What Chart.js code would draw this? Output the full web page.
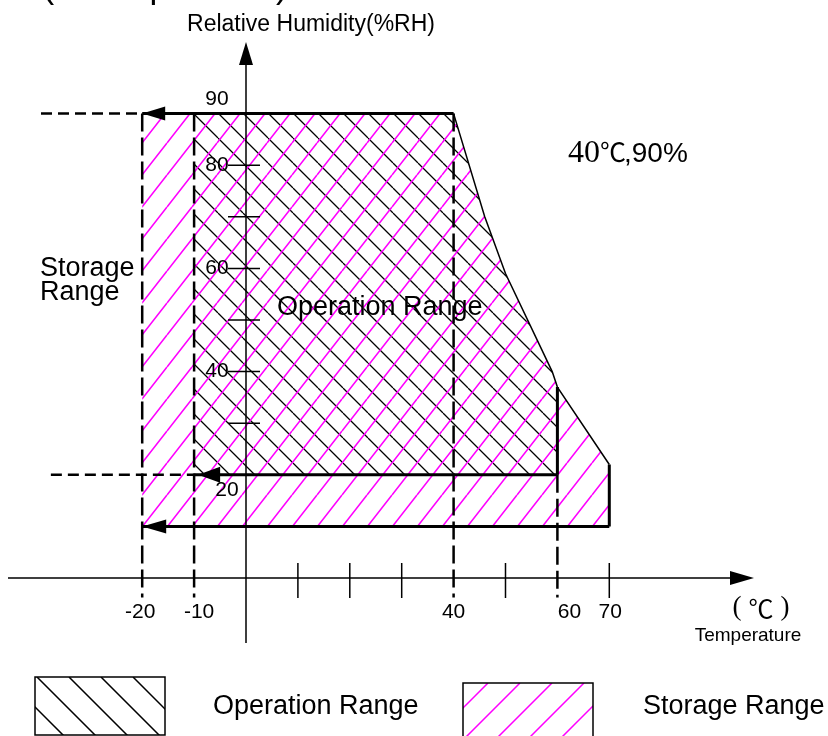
<!DOCTYPE html>
<html>
<head>
<meta charset="utf-8">
<script src="https://cdn.jsdelivr.net/npm/chart.js@4.4.0/dist/chart.umd.min.js"></script>
<style>
  html, body { margin: 0; padding: 0; background: #fff; }
  #wrap { width: 828px; height: 736px; }
</style>
</head>
<body>
<div id="wrap"><canvas id="myChart" width="828" height="736"></canvas></div>
<script>
// storage range outline (temperature in degC, humidity in %RH)
const storageTemp = [-20, 40, 46, 50, 59, 60, 70, 70, -20];
const storageHum  = [ 90, 90, 70, 59, 40, 37, 22, 10,  10];

// operation range outline
const operationTemp = [-10, 40, 46, 50, 59, 60, 60, -10];
const operationHum  = [ 90, 90, 70, 59, 40, 37, 20,  20];

// sloped boundary from 40C/90% down to 70C
const edgeTemp = [40, 46, 50, 59, 60, 70];
const edgeHum  = [90, 70, 59, 40, 37, 22];

// tick marks and labels
const xTicks = [10, 20, 30, 50, 70];
const xLabelValues = [-20, -10, 40, 60, 70];
const xLabels = ['-20', '-10', '40', '60', '70'];
const yTicks = [30, 40, 50, 60, 70, 80];
const yLabelValues = [90, 80, 60, 40, 20];
const yLabels = ['90', '80', '60', '40', '20'];

// guide lines
const guideTemps = [-20, -10, 40, 60];
const guideTop = [90, 90, 90, 20];

const xMin = -47.4, xMax = 112.14;
const yMin = -30.62, yMax = 112.02;

const pts = (xs, ys) => xs.map((x, i) => ({ x: x, y: ys[i] }));

function makeHatch(w, h, color, lw, dir) {
  const c = document.createElement('canvas');
  c.width = w; c.height = h;
  const g = c.getContext('2d');
  g.strokeStyle = color;
  g.lineWidth = lw;
  g.beginPath();
  for (let k = -1; k <= 1; k++) {
    if (dir > 0) { g.moveTo(k * w, h); g.lineTo(k * w + w, 0); }
    else { g.moveTo(k * w, 0); g.lineTo(k * w + w, h); }
  }
  g.stroke();
  return g.createPattern(c, 'repeat');
}

const blackPat = makeHatch(25, 25, '#000', 1.3, -1);
blackPat.setTransform(new DOMMatrix([1, 0, 0, 1, 193, 113]));
const pinkPat = makeHatch(25, 32, '#ff00ff', 1.6, 1);
pinkPat.setTransform(new DOMMatrix([1, 0, 0, 1, 142, 111]));

// thick outline segments, null breaks the line
const thickLine = [
  { x: -20, y: 90 }, { x: 40, y: 90 }, { x: null, y: null },
  { x: -10, y: 20 }, { x: 60, y: 20 }, { x: null, y: null },
  { x: -20, y: 10 }, { x: 70, y: 10 }, { x: null, y: null },
  { x: 70, y: 22 }, { x: 70, y: 10 }, { x: null, y: null },
  { x: 60, y: 37 }, { x: 60, y: 20 }
];
const vDash = [];
guideTemps.forEach((t, i) => {
  vDash.push({ x: t, y: guideTop[i] }, { x: t, y: -3.8 }, { x: null, y: null });
});
const hDash = [
  { x: -39.5, y: 90 }, { x: -20, y: 90 }, { x: null, y: null },
  { x: -37.6, y: 20 }, { x: -10, y: 20 }
];

function arrow(ctx, x, y, dir, len, half) {
  ctx.beginPath();
  ctx.moveTo(x, y);
  if (dir === 'left') { ctx.lineTo(x + len, y - half); ctx.lineTo(x + len, y + half); }
  if (dir === 'right') { ctx.lineTo(x - len, y - half); ctx.lineTo(x - len, y + half); }
  if (dir === 'up') { ctx.lineTo(x - half, y + len); ctx.lineTo(x + half, y + len); }
  ctx.closePath();
  ctx.fill();
}

function hatchBox(ctx, x, y, w, h, color, step, first, dir) {
  ctx.save();
  ctx.beginPath();
  ctx.rect(x, y, w, h);
  ctx.clip();
  ctx.strokeStyle = color;
  ctx.lineWidth = 1.5;
  ctx.beginPath();
  for (let s = first - 4 * step; s < x + w + 2 * step; s += step) {
    ctx.moveTo(s, y);
    ctx.lineTo(s + dir * h * 2, y + h * 2);
  }
  ctx.stroke();
  ctx.restore();
  ctx.strokeStyle = '#000';
  ctx.lineWidth = 1.5;
  ctx.strokeRect(x, y, w, h);
}

const SANS = '"Liberation Sans", Arial, sans-serif';

const extras = {
  id: 'extras',
  afterDatasetsDraw(chart) {
    const ctx = chart.ctx;
    const X = v => chart.scales.x.getPixelForValue(v);
    const Y = v => chart.scales.y.getPixelForValue(v);
    const x0 = X(0), y0 = Y(0);
    ctx.save();
    ctx.strokeStyle = '#000';
    ctx.fillStyle = '#000';
    ctx.lineWidth = 1.5;

    // axes
    ctx.beginPath();
    ctx.moveTo(8, y0); ctx.lineTo(735, y0);
    ctx.moveTo(x0, 643); ctx.lineTo(x0, 60);
    ctx.stroke();
    arrow(ctx, 754, y0, 'right', 24, 7);
    arrow(ctx, x0, 42, 'up', 23, 7);

    // ticks
    ctx.beginPath();
    xTicks.forEach(t => { ctx.moveTo(X(t), y0 - 15); ctx.lineTo(X(t), y0 + 20); });
    yTicks.forEach(t => { ctx.moveTo(x0 - 18, Y(t)); ctx.lineTo(x0 + 14, Y(t)); });
    ctx.stroke();

    // range arrows
    arrow(ctx, X(-20), Y(90), 'left', 23, 7);
    arrow(ctx, X(-10) + 4, Y(20), 'left', 22, 8);
    arrow(ctx, X(-20), Y(10), 'left', 24, 7);

    // tick labels
    ctx.font = '21px ' + SANS;
    ctx.textAlign = 'center';
    ctx.textBaseline = 'middle';
    const xShift = [-2, 5, 0, 12, 1];
    xLabelValues.forEach((v, i) => ctx.fillText(xLabels[i], X(v) + xShift[i], 612));
    yLabelValues.forEach((v, i) => {
      let lx = x0 - 29, ly = Y(v);
      if (v === 90) ly -= 14;
      if (v === 20) { lx = x0 - 19; ly += 15; }
      ctx.fillText(yLabels[i], lx, ly);
    });

    // axis titles
    ctx.font = '23px ' + SANS;
    ctx.textBaseline = 'alphabetic';
    ctx.fillText('Relative Humidity(%RH)', 311, 31);
    ctx.font = '19px ' + SANS;
    ctx.fillText('Temperature', 748, 641);
    ctx.textBaseline = 'middle';
    ctx.font = '27px "Liberation Serif", serif';
    ctx.fillText('(', 737, 608);
    ctx.fillText(')', 785, 608);
    ctx.font = '25px "Noto Sans CJK SC", serif';
    ctx.fillText('\u2103', 761, 608);

    // cut-off heading at the very top
    ctx.font = '35px ' + SANS;
    ctx.textBaseline = 'alphabetic';
    ctx.fillText('(Non-operation)', 165, -2);

    // region labels
    ctx.textAlign = 'left';
    ctx.font = '27px ' + SANS;
    ctx.fillText('Storage', 40, 276);
    ctx.fillText('Range', 40, 300);
    ctx.fillText('Operation Range', 277, 315);

    // corner note
    let cx = 568;
    ctx.font = '32px "Liberation Serif", serif';
    ctx.fillText('40', cx, 162);
    cx += ctx.measureText('40').width;
    ctx.font = '26px "Noto Sans CJK SC", serif';
    ctx.fillText('\u2103', cx, 162);
    cx += ctx.measureText('\u2103').width - 2;
    ctx.font = '28px ' + SANS;
    ctx.fillText(',90%', cx, 162);

    // legend
    hatchBox(ctx, 35, 677, 130, 58, '#000', 32, 37, 1);
    hatchBox(ctx, 463, 683, 130, 70, '#ff00ff', 32, 488 + 64, -1);
    ctx.fillStyle = '#000';
    ctx.font = '27px ' + SANS;
    ctx.fillText('Operation Range', 213, 714);
    ctx.fillText('Storage Range', 643, 714);
    ctx.restore();
  }
};

new Chart(document.getElementById('myChart'), {
  type: 'scatter',
  data: {
    datasets: [
      { data: thickLine, showLine: true, borderColor: '#000', borderWidth: 3, pointRadius: 0, fill: false },
      { data: vDash, showLine: true, borderColor: '#000', borderWidth: 2.5, borderDash: [18, 6], pointRadius: 0, fill: false },
      { data: hDash, showLine: true, borderColor: '#000', borderWidth: 2.5, borderDash: [11, 6], pointRadius: 0, fill: false },
      { data: pts(edgeTemp, edgeHum), showLine: true, borderColor: '#000', borderWidth: 1.5, pointRadius: 0, fill: false },
      { data: pts(storageTemp, storageHum), showLine: true, borderColor: 'rgba(0,0,0,0)', borderWidth: 0, pointRadius: 0, fill: 'shape', backgroundColor: pinkPat },
      { data: pts(operationTemp, operationHum), showLine: true, borderColor: 'rgba(0,0,0,0)', borderWidth: 0, pointRadius: 0, fill: 'shape', backgroundColor: blackPat }
    ]
  },
  options: {
    responsive: false,
    animation: false,
    events: [],
    layout: { padding: 0 },
    elements: { line: { tension: 0 } },
    plugins: { legend: { display: false }, tooltip: { enabled: false } },
    scales: {
      x: { type: 'linear', min: xMin, max: xMax, display: false },
      y: { type: 'linear', min: yMin, max: yMax, display: false }
    }
  },
  plugins: [extras]
});
</script>
</body>
</html>
